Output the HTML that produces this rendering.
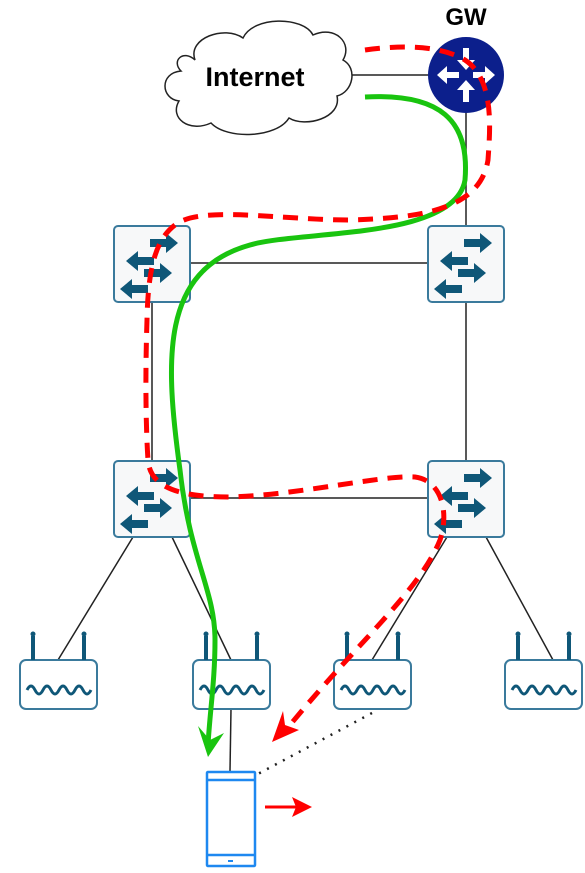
<!DOCTYPE html>
<html><head><style>body{margin:0;background:#fff}svg{display:block}</style></head><body>
<svg width="585" height="873" viewBox="0 0 585 873" xmlns="http://www.w3.org/2000/svg">
<defs>
<g id="sw"><rect x="0" y="0" width="76" height="76" rx="4" fill="#f7f8f9" stroke="#3a7a9c" stroke-width="2"/>
<g fill="#0f5778"><path d="M36 13h16v-6l12 10-12 10v-6h-16z"/><path d="M40 31h-16v-6l-12 10 12 10v-6h16z"/><path d="M30 43h16v-6l12 10-12 10v-6h-16z"/><path d="M34 63h-16v-6l-12 10 12 10v-6h16z" transform="translate(0,-4)"/></g></g>
<g id="ap"><rect x="0" y="0" width="77" height="49" rx="6" fill="#fff" stroke="#3a7a9c" stroke-width="2"/>
<g fill="#0f5778"><rect x="11" y="-24" width="4" height="24"/><rect x="62" y="-24" width="4" height="24"/><circle cx="13" cy="-26" r="2.5"/><circle cx="64" cy="-26" r="2.5"/></g>
<path d="M7 30 q4 -8 8 0 q4 8 8 0 q4 -8 8 0 q4 8 8 0 q4 -8 8 0 q4 8 8 0 q4 -8 8 0 q4 8 8 0" fill="none" stroke="#0f5778" stroke-width="3"/></g>
</defs>
<g stroke="#222" stroke-width="1.5" fill="none">
<line x1="330" y1="75" x2="430" y2="75"/><line x1="466" y1="110" x2="466" y2="226"/>
<line x1="190" y1="263" x2="428" y2="263"/><line x1="152" y1="302" x2="152" y2="461"/><line x1="466" y1="302" x2="466" y2="461"/>
<line x1="191" y1="498" x2="428" y2="498"/>
<line x1="133" y1="537" x2="58" y2="660"/><line x1="172" y1="537" x2="231" y2="660"/>
<line x1="447" y1="537" x2="372" y2="660"/><line x1="486" y1="537" x2="553" y2="660"/>
<line x1="231" y1="709" x2="230" y2="771"/>
<line x1="372" y1="713" x2="256" y2="775" stroke-dasharray="2 7" stroke-width="2.5"/>
</g>
<path d="M195 60 c-8-22 30-35 48-22 c10-22 60-22 70-3 c22-10 40 8 30 25 c15 8 10 32-6 36 c5 22-32 32-48 22 c-12 20-62 22-78 5 c-22 10-42-5-32-22 c-18 -2-20-28 2-30 c-10-10 2-22 14-11z" fill="#fff" stroke="#222" stroke-width="1.5"/>
<text x="255" y="86" font-family="Liberation Sans, sans-serif" font-weight="bold" font-size="27" text-anchor="middle">Internet</text>
<text x="466" y="25" font-family="Liberation Sans, sans-serif" font-weight="bold" font-size="24" text-anchor="middle">GW</text>
<circle cx="466" cy="75" r="38" fill="#0c1f8c"/>
<g fill="#fff"><path d="M463 48h6v12h6l-9 10-9-10h6z"/><path d="M463 102h6v-12h6l-9-10-9 10h6z"/><path d="M459 72v6h-12v6l-10-9 10-9v6z"/><path d="M473 72v6h12v6l10-9-10-9v6z"/></g>
<use href="#sw" x="114" y="226"/><use href="#sw" x="428" y="226"/><use href="#sw" x="114" y="461"/><use href="#sw" x="428" y="461"/>
<use href="#ap" x="20" y="660"/><use href="#ap" x="193" y="660"/><use href="#ap" x="334" y="660"/><use href="#ap" x="505" y="660"/>
<g fill="none" stroke="#1e88f0" stroke-width="2.5"><rect x="207" y="772" width="48" height="94" rx="1"/><line x1="207" y1="780" x2="255" y2="780"/><line x1="207" y1="855" x2="255" y2="855"/></g>
<rect x="228" y="860" width="5" height="2" fill="#1e88f0"/>
<path d="M365 97 C440 93 470 120 465 180 C455 240 300 230 250 245 C160 270 165 360 180 470 C190 560 215 590 215 640 C215 680 210 710 208 745" fill="none" stroke="#19c40f" stroke-width="5"/>
<path d="M198 726 L208 757 L224 733 L210 740z" fill="#19c40f"/>
<path d="M365 50 C400 45 440 45 465 60 C495 80 490 130 488 160 C480 210 420 218 350 220 C280 220 200 205 175 225 C155 240 148 270 147 320 C145 380 146 430 148 460 C150 490 185 497 230 497 C300 495 380 475 415 477 C440 480 450 510 440 540 C420 590 360 640 290 725" fill="none" stroke="#f00" stroke-width="5" stroke-dasharray="15 10"/>
<path d="M272 742 L283 711 L285 725 L299 730z" fill="#f00"/>
<line x1="265" y1="807" x2="298" y2="807" stroke="#f00" stroke-width="3"/>
<path d="M312 807 L292 797 L296 807 L292 817z" fill="#f00"/>
</svg>
</body></html>
